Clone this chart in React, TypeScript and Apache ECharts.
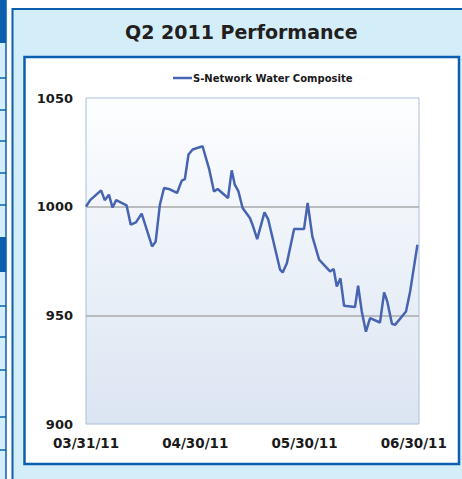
import React, { useEffect, useRef } from "react";
import * as echarts from "echarts";

// x = trading-day index from 03/31/11, y = index level
const xIndex = [0, 0.8, 2.9, 3.6, 4.4, 5.1, 5.8, 7.8, 8.6, 9.6, 10.7, 12.7, 13.4, 14.2, 15.0, 16.1, 17.5, 18.4, 19.0, 19.7, 20.5, 22.4, 23.7, 24.6, 25.3, 27.3, 28.0, 28.6, 29.3, 30.1, 31.5, 32.0, 32.9, 34.3, 35.0, 37.3, 37.8, 38.6, 40.0, 41.9, 42.6, 43.5, 44.8, 46.9, 47.6, 48.2, 48.9, 49.6, 51.7, 52.3, 53.0, 53.8, 54.6, 56.5, 57.3, 57.9, 58.8, 59.4, 61.5, 62.3, 63.7];
const values = [1000, 1003, 1007.5, 1003, 1005.5, 999.6, 1003, 1000.6, 991.7, 992.8, 996.8, 981.7, 984, 1000.9, 1008.6, 1008, 1006.3, 1012, 1012.7, 1024, 1026.3, 1027.8, 1017, 1007, 1008.1, 1004, 1016.7, 1010.1, 1007, 999.4, 994.8, 991.7, 985.1, 997.4, 994.3, 971, 969.7, 974, 989.7, 989.7, 1001.7, 986.3, 975.6, 970.2, 971.3, 963.3, 967, 954.4, 953.8, 963.6, 951.8, 942.5, 948.7, 946.7, 960.5, 956.4, 946.1, 945.6, 951.8, 961, 982.5];
const tickIndex = [0, 21, 42, 63];
const tickLabels = ["03/31/11", "04/30/11", "05/30/11", "06/30/11"];
const seriesName = "S-Network Water Composite";
const titleText = "Q2 2011 Performance";

const DARK = "#0b5fae";
const LIGHT = "#d3eef9";
const FONT = "DejaVu Sans";

export default function App() {
  const ref = useRef<HTMLDivElement>(null);
  useEffect(() => {
    if (!ref.current) return;
    const chart = echarts.init(ref.current, null, { renderer: "svg" });
    const stripLines = [78, 110, 141, 173, 205, 306, 337, 370, 417, 450];
    const graphics: any[] = [
      { type: "rect", z: -10, shape: { x: 0, y: 0, width: 6, height: 479 }, style: { fill: LIGHT } },
      { type: "rect", z: -9, shape: { x: 0, y: 0, width: 6, height: 43 }, style: { fill: DARK } },
      { type: "rect", z: -9, shape: { x: 0, y: 237, width: 6, height: 35 }, style: { fill: DARK } },
      { type: "line", z: -9, shape: { x1: 6, y1: 0, x2: 6, y2: 479 }, style: { stroke: DARK, lineWidth: 1.5 } },
      ...stripLines.map((y) => ({ type: "line", z: -9, shape: { x1: 0, y1: y, x2: 6, y2: y }, style: { stroke: DARK, lineWidth: 1.5 } })),
      { type: "rect", z: -8, shape: { x: 12.5, y: 9, width: 470, height: 480 }, style: { fill: LIGHT, stroke: DARK, lineWidth: 2 } },
      { type: "rect", z: -7, shape: { x: 24.5, y: 57, width: 434.5, height: 407 }, style: { fill: "#ffffff", stroke: DARK, lineWidth: 2.5 } },
    ];
    chart.setOption({
      animation: false,
      title: {
        text: titleText,
        left: 125,
        top: 22,
        padding: 0,
        textStyle: { fontFamily: FONT, fontSize: 19, fontWeight: "bold", color: "#231f20" },
      },
      graphic: { elements: graphics },
      legend: {
        left: 173,
        top: 73,
        padding: 0,
        icon: "rect",
        itemWidth: 19,
        itemHeight: 2.5,
        data: [seriesName],
        textStyle: { fontFamily: FONT, fontSize: 10, fontWeight: "bold", color: "#1a1a1a", padding: [0, 0, 0, -4] },
      },
      grid: {
        left: 86,
        right: 43,
        top: 98,
        bottom: 55,
        show: true,
        borderColor: "#a9bfdc",
        borderWidth: 1,
        backgroundColor: {
          type: "linear", x: 0, y: 0, x2: 0, y2: 1,
          colorStops: [
            { offset: 0, color: "#fdfeff" },
            { offset: 1, color: "#dbe5f2" },
          ],
        },
      },
      xAxis: {
        type: "value",
        min: 0,
        max: 64,
        interval: 21,
        axisLine: { show: false },
        axisTick: { show: false },
        splitLine: { show: false },
        axisLabel: {
          margin: 12,
          fontFamily: FONT,
          fontSize: 13.5,
          fontWeight: "bold",
          color: "#1a1a1a",
          showMaxLabel: false,
          formatter: (v: number) => {
            const i = tickIndex.indexOf(v);
            return i >= 0 ? tickLabels[i] : "";
          },
        },
      },
      yAxis: {
        type: "value",
        min: 900,
        max: 1050,
        interval: 50,
        axisLine: { show: false },
        axisTick: { show: false },
        splitLine: { show: true, showMinLine: false, showMaxLine: false, lineStyle: { color: "#a8a8a8", width: 1.5 } },
        axisLabel: {
          margin: 13,
          fontFamily: FONT,
          fontSize: 13,
          fontWeight: "bold",
          color: "#1a1a1a",
          formatter: (v: number) => String(v),
        },
      },
      series: [
        {
          name: seriesName,
          type: "line",
          showSymbol: false,
          symbol: "none",
          data: xIndex.map((x, i) => [x, values[i]]),
          lineStyle: { color: "#4664b2", width: 2.5 },
          itemStyle: { color: "#4664b2" },
        },
      ],
    });
    return () => chart.dispose();
  }, []);
  return <div ref={ref} style={{ position: "absolute", left: 0, top: 0, width: 462, height: 479 }} />;
}
